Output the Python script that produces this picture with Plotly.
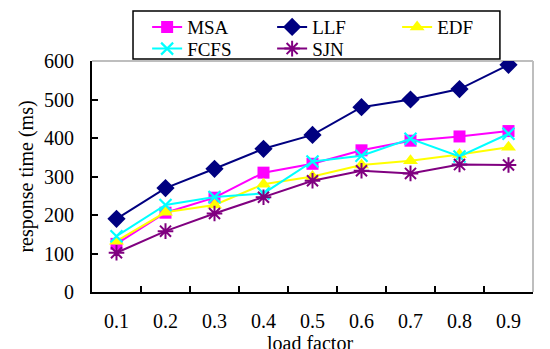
import plotly.graph_objects as go

categories = ["0.1", "0.2", "0.3", "0.4", "0.5", "0.6", "0.7", "0.8", "0.9"]
msa = [125, 206, 245, 310, 333, 368, 393, 404, 418]
llf = [190, 270, 320, 372, 408, 480, 500, 527, 590]
edf = [132, 207, 226, 280, 300, 330, 341, 357, 376]
fcfs = [145, 226, 247, 256, 339, 354, 398, 352, 411]
sjn = [102, 158, 204, 246, 289, 315, 308, 331, 330]

FONT = "Liberation Serif"

series = [
    ("MSA", msa, "#FF00FF", dict(symbol="square", size=12, color="#FF00FF"), "legend"),
    ("LLF", llf, "#000080", dict(symbol="diamond", size=14, color="#000080"), "legend"),
    ("EDF", edf, "#FFFF00", dict(symbol="triangle-up", size=13, color="#FFFF00"), "legend"),
    ("FCFS", fcfs, "#00FFFF", dict(symbol="x-thin", size=12, color="#00FFFF",
                                   line=dict(width=2.2, color="#00FFFF")), "legend2"),
    ("SJN", sjn, "#800080", dict(symbol="asterisk", size=13, color="#800080",
                                 line=dict(width=2, color="#800080")), "legend2"),
]

fig = go.Figure()
for name, vals, col, mk, lg in series:
    fig.add_trace(go.Scatter(x=categories, y=vals, name=name, mode="lines+markers",
                             line=dict(color=col, width=2), marker=mk, legend=lg))

legend_common = dict(orientation="h", xanchor="left", yanchor="middle",
                     borderwidth=0, bgcolor="rgba(0,0,0,0)",
                     font=dict(family=FONT, size=19), entrywidth=80,
                     itemsizing="trace")

fig.update_layout(
    width=550, height=349,
    margin=dict(l=84, r=25, t=53, b=65, autoexpand=False),
    paper_bgcolor="white", plot_bgcolor="white",
    font=dict(family=FONT, size=20, color="black"),
    showlegend=True,
    legend=dict(x=0.125, y=1.147, **legend_common),
    legend2=dict(x=0.125, y=1.053, **legend_common),
    xaxis=dict(type="category", range=[-0.5, 8.5], tickson="boundaries",
               ticks="inside", ticklen=6, tickwidth=1.5, tickcolor="black",
               showline=True, linecolor="black", linewidth=2,
               showgrid=False, zeroline=False, ticklabelstandoff=10,
               tickfont=dict(family=FONT, size=20)),
    yaxis=dict(range=[0, 600], tickvals=[0, 100, 200, 300, 400, 500, 600],
               ticks="inside", ticklen=6, tickwidth=1.5, tickcolor="black",
               showline=True, linecolor="black", linewidth=2,
               showgrid=False, zeroline=False, ticklabelstandoff=12,
               tickfont=dict(family=FONT, size=20),
               title=dict(text="response time (ms)", standoff=5, font=dict(family=FONT, size=20))),
    annotations=[
        dict(text="load factor", xref="paper", yref="paper", x=0.495, y=0,
             xanchor="center", yanchor="middle", yshift=-51, showarrow=False,
             font=dict(family=FONT, size=20)),
    ],
    shapes=[
        dict(type="line", xref="paper", yref="paper", x0=0, x1=1, y0=1, y1=1,
             line=dict(color="#BEBEBE", width=2), layer="below"),
        dict(type="line", xref="paper", yref="paper", x0=1, x1=1, y0=0, y1=1,
             line=dict(color="#BEBEBE", width=2), layer="below"),
        dict(type="rect", xref="paper", yref="paper", x0=0.093, x1=0.925,
             y0=1.0087, y1=1.2165, line=dict(color="black", width=1.5),
             fillcolor="white", layer="above"),
    ],
)

fig.write_html("out.html")
